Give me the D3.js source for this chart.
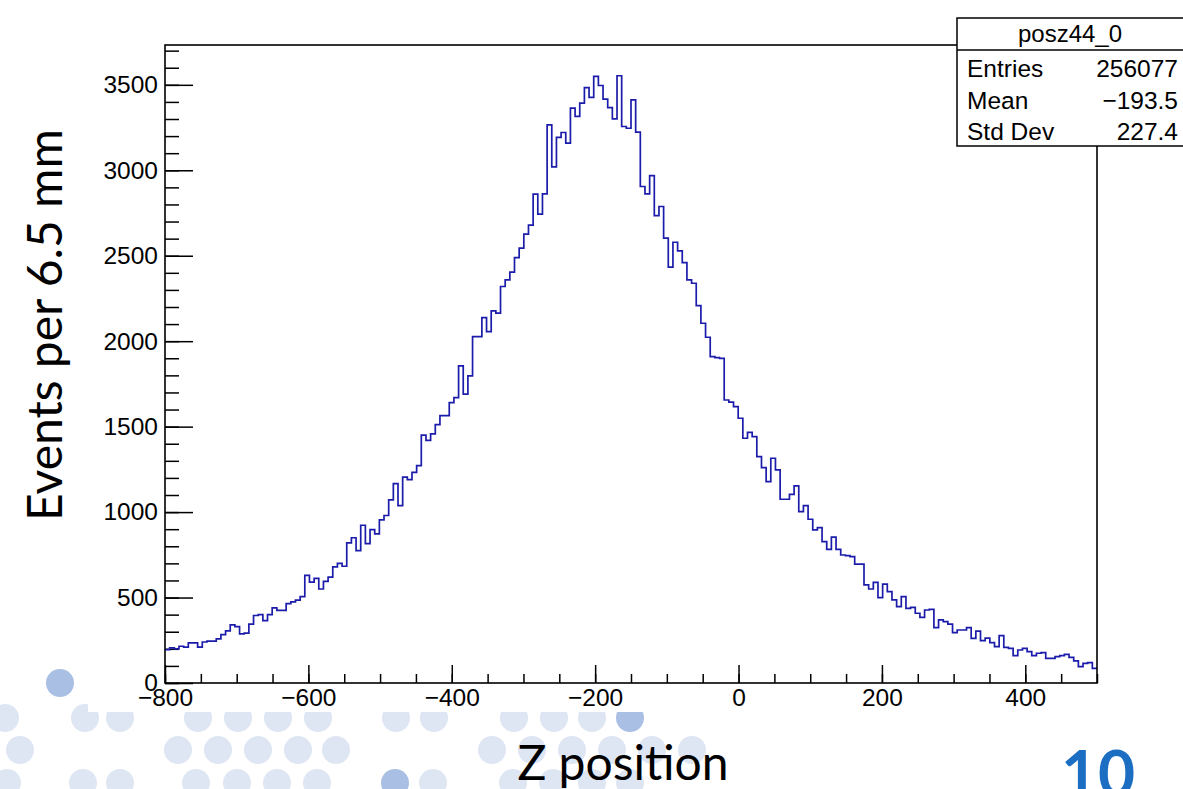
<!DOCTYPE html>
<html>
<head>
<meta charset="utf-8">
<script src="https://cdn.jsdelivr.net/npm/d3@7"></script>
<style>
  body { margin: 0; background: #fff; }
  svg { display: block; }
  .tick text { font-family: "Liberation Sans", Arial, sans-serif; }
</style>
</head>
<body>
<div id="chart"></div>
<script>
var width = 1183,
    height = 789;

// histogram posz44_0 : 200 bins of 6.5 mm from -800 to 500
var xMin = -800,
    binWidth = 6.5;

var binValues = [
  195, 205, 200, 215, 210, 235, 235, 210, 240, 245,
  245, 258, 283, 305, 340, 330, 287, 292, 345, 395,
  400, 365, 400, 440, 425, 425, 465, 475, 485, 505,
  630, 590, 612, 550, 595, 620, 680, 700, 683, 820,
  850, 775, 923, 815, 897, 872, 955, 980, 1072, 1166,
  1038, 1205, 1190, 1232, 1272, 1450, 1420, 1458, 1512, 1565,
  1565, 1641, 1670, 1855, 1690, 1797, 2027, 2027, 2138, 2056,
  2177, 2164, 2320, 2359, 2404, 2489, 2544, 2626, 2679, 2860,
  2743, 2862, 3266, 3020, 3192, 3221, 3159, 3364, 3315, 3393,
  3484, 3426, 3549, 3496, 3416, 3367, 3301, 3553, 3256, 3246,
  3412, 3223, 2905, 2862, 2969, 2735, 2788, 2603, 2433, 2579,
  2528, 2460, 2359, 2339, 2208, 2105, 2023, 1910, 1904, 1900,
  1656, 1643, 1617, 1549, 1432, 1467, 1442, 1325, 1260, 1178,
  1315, 1247, 1075, 1075, 1104, 1153, 1003, 1038, 958, 896,
  909, 827, 782, 853, 782, 749, 745, 739, 695, 695,
  574, 550, 589, 499, 579, 535, 486, 447, 505, 437,
  443, 408, 384, 427, 431, 324, 369, 359, 345, 295,
  310, 310, 324, 261, 304, 248, 263, 236, 213, 277,
  209, 203, 160, 193, 203, 183, 160, 174, 178, 144,
  144, 154, 160, 168, 150, 129, 96, 115, 119, 86
];

var xTicks = [-800, -600, -400, -200, 0, 200, 400];
var yTicks = [0, 500, 1000, 1500, 2000, 2500, 3000, 3500];

var statsTitle = "posz44_0";
var statsLabels = ["Entries", "Mean", "Std Dev"];
var statsValues = ["256077", "\u2212193.5", "227.4"];

var xLabel = "Z position",
    yLabel = "Events per 6.5 mm",
    slideNumber = "10";

// slide background dots (decoration behind the pasted plot)
var dotsRows = [
  {y: 683, xs: [60], dark: [60]},
  {y: 718, xs: [5, 85, 120, 198, 238, 278, 318, 396, 434, 514, 554, 592, 630], dark: [630]},
  {y: 750, xs: [20, 178, 218, 258, 298, 336, 492, 532, 572, 612, 652, 692], dark: []},
  {y: 783, xs: [7, 83, 120, 196, 237, 277, 317, 395, 433, 513, 553, 592, 630], dark: [395]}
];

var margin = {left: 165, right: 1097, top: 45, bottom: 683};

var svg = d3.select("#chart")
    .append("svg")
    .attr("width", width)
    .attr("height", height);

// dots
dotsRows.forEach(function(row) {
  svg.append("g")
    .selectAll("circle")
    .data(row.xs)
    .enter()
    .append("circle")
    .attr("cx", function(d) { return d; })
    .attr("cy", row.y)
    .attr("r", 14)
    .attr("fill", function(d) { return row.dark.indexOf(d) >= 0 ? "#a9bfe4" : "#dfe6f3"; });
});

// white area of the pasted picture
svg.append("rect")
    .attr("x", 88).attr("y", 0)
    .attr("width", width - 88).attr("height", 712)
    .attr("fill", "#fff");

var x = d3.scaleLinear()
    .domain([xMin, xMin + binWidth * binValues.length])
    .range([margin.left, margin.right]);

var y = d3.scaleLinear()
    .domain([0, 3733])
    .range([margin.bottom, margin.top]);

// minor ticks
var xMinor = d3.range(-800, 501, 50);
var yMinor = d3.range(0, 3701, 100);

svg.append("g")
    .attr("transform", "translate(0," + margin.bottom + ")")
    .call(d3.axisBottom(x).tickValues(xMinor).tickSize(-9).tickSizeOuter(0).tickFormat(""))
    .call(function(g) { g.select(".domain").remove(); });

svg.append("g")
    .attr("transform", "translate(" + margin.left + ",0)")
    .call(d3.axisLeft(y).tickValues(yMinor).tickSize(-14).tickSizeOuter(0).tickFormat(""))
    .call(function(g) { g.select(".domain").remove(); });

var fmt = function(d) { return d < 0 ? "\u2212" + Math.abs(d) : "" + d; };

var xAxis = svg.append("g")
    .attr("transform", "translate(0," + margin.bottom + ")")
    .call(d3.axisBottom(x).tickValues(xTicks).tickSize(-18).tickSizeOuter(0).tickPadding(6).tickFormat(fmt))
    .call(function(g) { g.select(".domain").remove(); });

var yAxis = svg.append("g")
    .attr("transform", "translate(" + margin.left + ",0)")
    .call(d3.axisLeft(y).tickValues(yTicks).tickSize(-28).tickSizeOuter(0).tickPadding(7).tickFormat(fmt))
    .call(function(g) { g.select(".domain").remove(); });

svg.selectAll(".tick line").attr("stroke", "#000").attr("stroke-width", 1.5);
svg.selectAll(".tick text").attr("font-size", 24.5).attr("fill", "#000");

// histogram
var pts = binValues.map(function(v, i) { return [xMin + i * binWidth, v]; });
pts.push([xMin + binValues.length * binWidth, binValues[binValues.length - 1]]);

var line = d3.line()
    .x(function(d) { return x(d[0]); })
    .y(function(d) { return y(d[1]); })
    .curve(d3.curveStepAfter);

svg.append("path")
    .datum(pts)
    .attr("d", line)
    .attr("fill", "none")
    .attr("stroke", "#1c1cab")
    .attr("stroke-width", 1.7);

// frame
svg.append("rect")
    .attr("x", margin.left).attr("y", margin.top)
    .attr("width", margin.right - margin.left)
    .attr("height", margin.bottom - margin.top)
    .attr("fill", "none")
    .attr("stroke", "#000")
    .attr("stroke-width", 1.6);

// stats box
var stats = svg.append("g").attr("font-family", "Liberation Sans, Arial, sans-serif");
stats.append("rect")
    .attr("x", 957).attr("y", 18)
    .attr("width", 260).attr("height", 128)
    .attr("fill", "#fff").attr("stroke", "#000").attr("stroke-width", 1.5);
stats.append("line")
    .attr("x1", 957).attr("x2", 1183)
    .attr("y1", 50).attr("y2", 50)
    .attr("stroke", "#000").attr("stroke-width", 1.5);
stats.append("text")
    .attr("x", 1070).attr("y", 42)
    .attr("text-anchor", "middle")
    .attr("font-size", 24)
    .text(statsTitle);
statsLabels.forEach(function(s, i) {
  stats.append("text")
    .attr("x", 967).attr("y", 77 + i * 31.5)
    .attr("font-size", 24.5)
    .text(s);
  stats.append("text")
    .attr("x", 1178).attr("y", 77 + i * 31.5)
    .attr("text-anchor", "end")
    .attr("font-size", 24.5)
    .text(statsValues[i]);
});

// slide titles
svg.append("text")
    .attr("x", 623).attr("y", 780)
    .attr("text-anchor", "middle")
    .attr("font-family", "Lato, sans-serif")
    .attr("font-size", 48)
    .text(xLabel);

svg.append("text")
    .attr("transform", "translate(62,325) rotate(-90)")
    .attr("text-anchor", "middle")
    .attr("font-family", "Lato, sans-serif")
    .attr("font-size", 48)
    .text(yLabel);

svg.append("text")
    .attr("x", 1098).attr("y", 796)
    .attr("text-anchor", "middle")
    .attr("font-family", "Lato, sans-serif")
    .attr("font-weight", "bold")
    .attr("font-size", 64)
    .attr("fill", "#1b6ec2")
    .text(slideNumber);
</script>
</body>
</html>
